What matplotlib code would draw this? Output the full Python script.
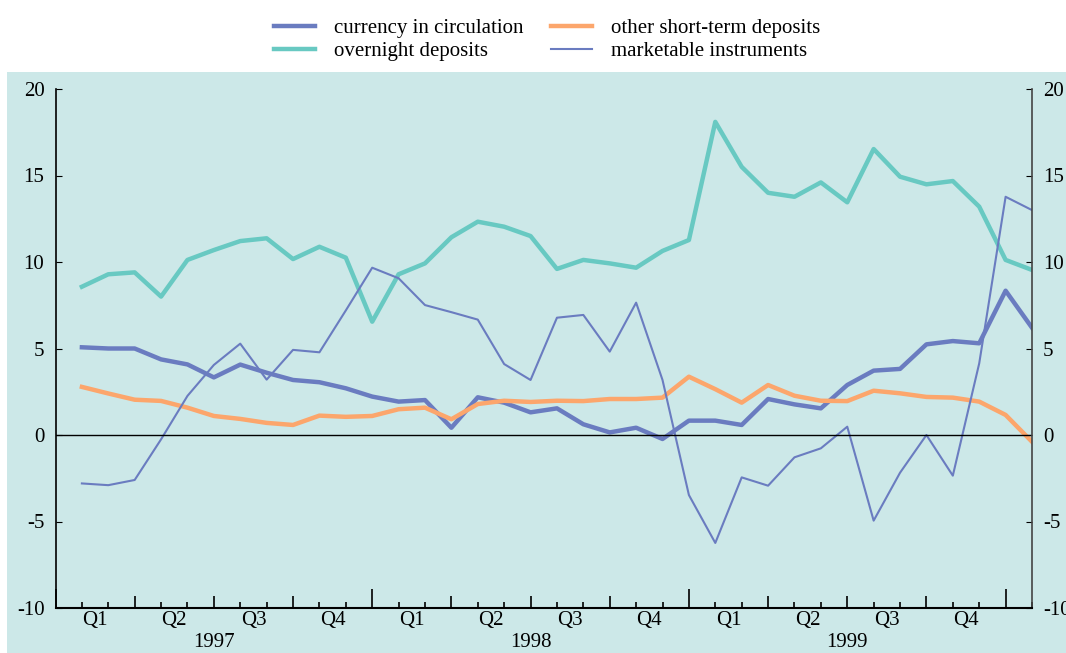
import matplotlib.pyplot as plt
from matplotlib.patches import Rectangle

# monthly observations, Jan 1997 .. Jan 2000 (annual growth rates, %)
months = list(range(1, 38))

currency = [5.07, 5.0, 5.0, 4.37, 4.08, 3.33, 4.07, 3.6, 3.18, 3.05, 2.7, 2.22,
            1.93, 2.02, 0.42, 2.18, 1.87, 1.31, 1.54, 0.62, 0.15, 0.42, -0.23, 0.83,
            0.83, 0.58, 2.08, 1.77, 1.54, 2.89, 3.72, 3.82, 5.24, 5.43, 5.3, 8.34, 6.2]

overnight = [8.57, 9.29, 9.4, 8.0, 10.12, 10.69, 11.21, 11.37, 10.17, 10.88, 10.25, 6.55,
             9.29, 9.92, 11.43, 12.33, 12.04, 11.5, 9.6, 10.12, 9.92, 9.67, 10.64, 11.27,
             18.1, 15.5, 14.0, 13.77, 14.6, 13.45, 16.53, 14.93, 14.49, 14.68, 13.2, 10.12, 9.54]

other_short = [2.78, 2.4, 2.04, 1.97, 1.58, 1.1, 0.93, 0.7, 0.58, 1.12, 1.05, 1.1,
               1.49, 1.58, 0.91, 1.79, 1.98, 1.91, 1.98, 1.96, 2.08, 2.08, 2.16, 3.37,
               2.65, 1.87, 2.89, 2.27, 1.98, 1.96, 2.56, 2.41, 2.2, 2.16, 1.93, 1.16, -0.39]

marketable = [-2.8, -2.9, -2.6, -0.25, 2.26, 4.05, 5.28, 3.2, 4.92, 4.78, 7.2, 9.67,
              9.06, 7.51, 7.1, 6.67, 4.1, 3.18, 6.78, 6.94, 4.82, 7.65, 3.18, -3.47,
              -6.24, -2.45, -2.93, -1.29, -0.77, 0.48, -4.95, -2.18, 0.0, -2.35, 4.14, 13.77, 13.0]

quarter_labels = ['Q1', 'Q2', 'Q3', 'Q4'] * 3
quarter_pos = [1.5 + 3 * i for i in range(12)]
years = ['1997', '1998', '1999']
year_pos = [6, 18, 30]

bg = '#cce8e8'
blue = '#6a7cc0'
teal = '#68c9c2'
orange = '#fca66c'

plt.rcParams['font.family'] = ['Liberation Serif', 'DejaVu Serif']
plt.rcParams['font.size'] = 15
plt.rcParams['axes.unicode_minus'] = False

fig = plt.figure(figsize=(10.66, 6.53), dpi=100)
# shaded panel behind the chart (legend area stays white)
fig.patches.append(Rectangle((7 / 1066, 0), 1, 1 - 72 / 653, transform=fig.transFigure,
                             facecolor=bg, edgecolor='none', zorder=-10))

ax = fig.add_axes([55.5 / 1066, 1 - 608 / 653, (1032 - 55.5) / 1066, (608 - 89) / 653])
ax.set_facecolor('none')
ax.set_zorder(1)

ax.plot(months, currency, color=blue, lw=3.2, label='currency in circulation')
ax.plot(months, overnight, color=teal, lw=3.2, label='overnight deposits')
ax.plot(months, other_short, color=orange, lw=3.2, label='other short-term deposits')
ax.plot(months, marketable, color=blue, lw=1.5, label='marketable instruments')
ax.axhline(0, color='black', lw=1)

ax.set_xlim(0, 37)
ax.set_ylim(-10, 20)
ax.set_yticks([-10, -5, 0, 5, 10, 15, 20])
ax.tick_params(axis='y', direction='in', length=4, left=True, right=True,
               labelleft=True, labelright=True, pad=8)

ax.set_xticks(list(range(0, 37, 3)))
ax.set_xticks(list(range(0, 38)), minor=True)
ax.tick_params(axis='x', which='major', direction='in', length=9, width=1.2, labelbottom=False)
ax.tick_params(axis='x', which='minor', direction='in', length=4, width=1.2)
for t, loc in zip(ax.xaxis.get_major_ticks(), range(0, 37, 3)):
    if loc % 12 == 0:
        t.tick1line.set_markersize(14)

ax.spines['top'].set_visible(False)
ax.spines['bottom'].set_linewidth(1.5)
ax.spines['left'].set_linewidth(1.2)
ax.spines['right'].set_linewidth(1.2)
ax.spines['right'].set_color('#444444')

for lab, x in zip(quarter_labels, quarter_pos):
    ax.text(x, -10.75, lab, ha='center', va='center', fontsize=15)
for lab, x in zip(years, year_pos):
    ax.text(x, -12.0, lab, ha='center', va='center', fontsize=15)

fig.legend(loc='upper center', bbox_to_anchor=(0.513, 1.0), ncol=2, frameon=False,
           handlelength=2.0, handletextpad=0.9, columnspacing=1.3, labelspacing=0.15,
           fontsize=15)

fig.savefig('out.png', dpi=100)
